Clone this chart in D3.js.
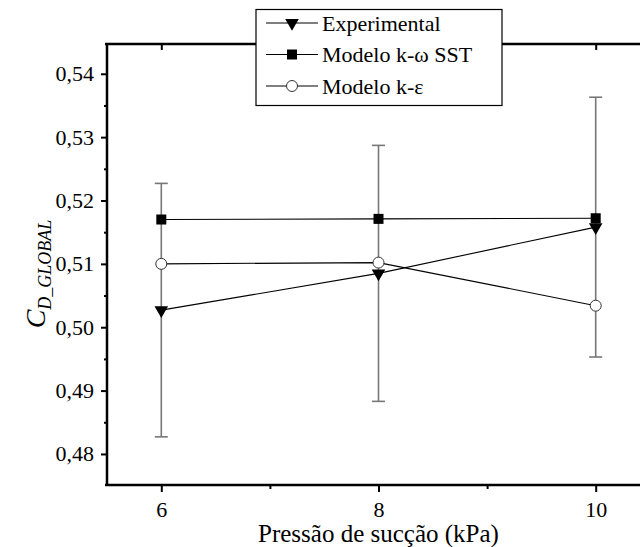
<!DOCTYPE html>
<html>
<head>
<meta charset="utf-8">
<script src="https://cdn.jsdelivr.net/npm/d3@7"></script>
<style>
  html, body { margin: 0; padding: 0; background: #fff; }
  svg { display: block; }
</style>
</head>
<body>
<svg id="chart" width="640" height="547"></svg>
<script>
// Suction pressure (kPa)
const pressures = [6, 8, 10];
// Global drag coefficient
const experimental = [0.5027, 0.5085, 0.5158];
const experimentalError = [0.0200, 0.0202, 0.0205];
const modelSST = [0.5170, 0.5171, 0.5172];
const modelKE = [0.5100, 0.5102, 0.5034];

const xMajorTicks = [6, 8, 10];
const xMinorTicks = [7, 9];
const yMajorTicks = [0.48, 0.49, 0.50, 0.51, 0.52, 0.53, 0.54];
const yMinorTicks = [0.485, 0.495, 0.505, 0.515, 0.525, 0.535];

const seriesNames = ["Experimental", "Modelo k-\u03C9 SST", "Modelo k-\u03B5"];

const FONT = "'Liberation Serif', 'Tinos', 'Times New Roman', 'Nimbus Roman', 'DejaVu Serif', serif";

const svg = d3.select("#chart");
const plotLeft = 107, plotRight = 650, plotTop = 44, plotBottom = 485;

const x = d3.scaleLinear().domain([5.5, 10.5]).range([plotLeft, plotRight]);
const y = d3.scaleLinear().domain([0.4751, 0.5447]).range([plotBottom, plotTop]);

const fmt = d => d3.format(".2f")(d).replace(".", ",");

// Axes
const axisStyle = g => {
  g.attr("font-family", FONT);
  g.select(".domain").remove();
  g.selectAll(".tick line").attr("stroke", "#000").attr("stroke-width", 2);
  g.selectAll(".tick text").attr("fill", "#000")
    .style("font-size", "22px").style("font-family", FONT);
};

svg.append("g").attr("transform", `translate(0,${plotBottom})`)
  .call(d3.axisBottom(x).tickValues(xMajorTicks).tickSize(7).tickPadding(9).tickFormat(d3.format("d")))
  .call(axisStyle);
svg.append("g").attr("transform", `translate(0,${plotBottom})`)
  .call(d3.axisBottom(x).tickValues(xMinorTicks).tickSize(4).tickFormat(""))
  .call(axisStyle);
svg.append("g").attr("transform", `translate(0,${plotTop})`)
  .call(d3.axisBottom(x).tickValues(xMajorTicks).tickSize(6).tickFormat(""))
  .call(axisStyle);
svg.append("g").attr("transform", `translate(${plotLeft},0)`)
  .call(d3.axisLeft(y).tickValues(yMajorTicks).tickSize(6).tickPadding(7).tickFormat(fmt))
  .call(axisStyle);
svg.append("g").attr("transform", `translate(${plotLeft},0)`)
  .call(d3.axisLeft(y).tickValues(yMinorTicks).tickSize(3).tickFormat(""))
  .call(axisStyle);

// Frame lines
const frame = svg.append("g").attr("stroke", "#000").attr("stroke-width", 2.5);
frame.append("line").attr("x1", plotLeft).attr("x2", plotLeft).attr("y1", plotTop - 1).attr("y2", plotBottom + 1);
frame.append("line").attr("x1", plotLeft - 2).attr("x2", 645).attr("y1", plotBottom).attr("y2", plotBottom);
frame.append("line").attr("x1", plotLeft - 2).attr("x2", 645).attr("y1", plotTop).attr("y2", plotTop);

// Error bars
const eb = svg.append("g").attr("stroke", "#777").attr("stroke-width", 1.6);
pressures.forEach((p, i) => {
  const hi = y(experimental[i] + experimentalError[i]);
  const lo = y(experimental[i] - experimentalError[i]);
  eb.append("line").attr("x1", x(p)).attr("x2", x(p)).attr("y1", hi).attr("y2", lo);
  eb.append("line").attr("x1", x(p) - 6.5).attr("x2", x(p) + 6.5).attr("y1", hi).attr("y2", hi);
  eb.append("line").attr("x1", x(p) - 6.5).attr("x2", x(p) + 6.5).attr("y1", lo).attr("y2", lo);
});

// Series lines
const line = d3.line().x((d, i) => x(pressures[i])).y(d => y(d));
[experimental, modelSST, modelKE].forEach(s => {
  svg.append("path").attr("d", line(s)).attr("fill", "none")
    .attr("stroke", "#000").attr("stroke-width", 1.1);
});

// Markers
const triPath = d3.symbol(d3.symbolTriangle, 80)();
function drawMarker(g, kind, cx, cy) {
  if (kind === 0) {
    g.append("path").attr("d", triPath)
      .attr("transform", `translate(${cx},${cy}) rotate(180)`).attr("fill", "#000");
  } else if (kind === 1) {
    g.append("rect").attr("x", cx - 5).attr("y", cy - 5).attr("width", 10).attr("height", 10).attr("fill", "#000");
  } else {
    g.append("circle").attr("cx", cx).attr("cy", cy).attr("r", 5.5)
      .attr("fill", "#fff").attr("stroke", "#333").attr("stroke-width", 1);
  }
}
const markers = svg.append("g");
modelKE.forEach((v, i) => drawMarker(markers, 2, x(pressures[i]), y(v)));
experimental.forEach((v, i) => drawMarker(markers, 0, x(pressures[i]), y(v)));
modelSST.forEach((v, i) => drawMarker(markers, 1, x(pressures[i]), y(v)));

// Axis titles
svg.append("text").attr("x", (x(6) + x(10)) / 2).attr("y", 542)
  .attr("text-anchor", "middle").style("font-family", FONT).style("font-size", "25px")
  .text("Pressão de sucção (kPa)");

const yt = svg.append("text")
  .attr("transform", `translate(45,274) rotate(-90)`)
  .attr("text-anchor", "middle").style("font-family", FONT).style("font-style", "italic");
yt.append("tspan").style("font-size", "28px").text("C");
yt.append("tspan").style("font-size", "18px").attr("dy", 6).text("D_GLOBAL");

// Legend
const lg = svg.append("g");
lg.append("rect").attr("x", 256).attr("y", 9.5).attr("width", 246).attr("height", 96)
  .attr("fill", "#fff").attr("stroke", "#000").attr("stroke-width", 1.2);
seriesNames.forEach((name, i) => {
  const ry = 23 + i * 31.5;
  lg.append("line").attr("x1", 266).attr("x2", 318).attr("y1", ry).attr("y2", ry)
    .attr("stroke", "#000").attr("stroke-width", 1.1);
  drawMarker(lg, i, 292, ry);
  lg.append("text").attr("x", 322).attr("y", ry).attr("dy", "0.35em")
    .style("font-family", FONT).style("font-size", "22px").text(name);
});
</script>
</body>
</html>
